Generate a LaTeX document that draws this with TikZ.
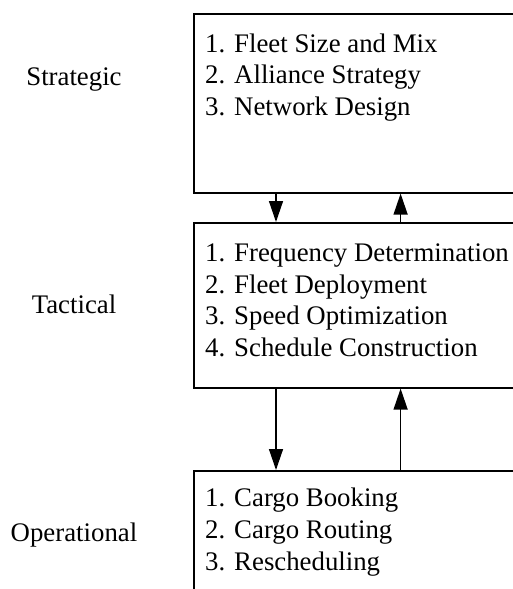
\documentclass[tikz,border=0pt]{standalone}
\usepackage{fontspec}
\setmainfont{Liberation Serif}
\usetikzlibrary{arrows.meta}
\tikzset{
  box/.style={draw, line width=1.6pt, rectangle, anchor=north west, minimum width=360pt, inner sep=0pt},
  items/.style={anchor=base west, align=left, inner sep=0pt, font=\fontsize{26.8}{31.8}\selectfont},
  lvl/.style={anchor=base, inner sep=0pt, font=\fontsize{26.8}{31.8}\selectfont},
  arr/.style={line width=1.4pt, -{Triangle[width=14pt,length=21pt]}}
}
\begin{document}
\begin{tikzpicture}[x=1pt,y=1pt]
\useasboundingbox (0,0) rectangle (513,-589);
\clip (0,0) rectangle (513,-589);
\fill[white] (0,0) rectangle (513,-589);
\node[box, minimum height=179pt] (top) at (193,-13) {};
\node[box, minimum height=165pt] (mid) at (193,-222) {};
\node[box, minimum height=160pt] (bot) at (193,-470) {};
\node[items] (toptext) at (205,-115.7) {1. Fleet Size and Mix\\2. Alliance Strategy\\3. Network Design};
\node[items] (midtext) at (205,-356.7) {1. Frequency Determination\\2. Fleet Deployment\\3. Speed Optimization\\4. Schedule Construction};
\node[items] (bottext) at (205,-570.3) {1. Cargo Booking\\2. Cargo Routing\\3. Rescheduling};
\node[lvl] (strat) at (74,-85) {Strategic};
\node[lvl] (tact) at (74,-313) {Tactical};
\node[lvl] (oper) at (74,-541.5) {Operational};
\coordinate (dn) at (276,0);
\coordinate (up) at (400.6,0);
\draw[arr] (top.south -| dn) -- (mid.north -| dn);
\draw[arr] (mid.north -| up) -- (top.south -| up);
\draw[arr] (mid.south -| dn) -- (bot.north -| dn);
\draw[arr] (bot.north -| up) -- (mid.south -| up);
\end{tikzpicture}
\end{document}
